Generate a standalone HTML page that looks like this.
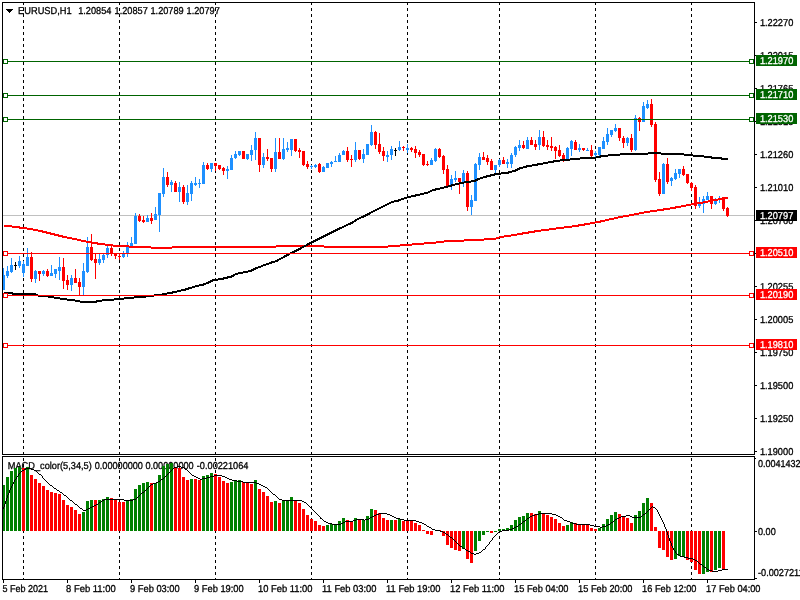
<!DOCTYPE html>
<html lang="en"><head><meta charset="utf-8"><title>EURUSD,H1</title>
<style>html,body{margin:0;padding:0;background:#fff;overflow:hidden}svg{display:block}text{font-family:"Liberation Sans",Arial,sans-serif;font-size:10px;fill:#000;stroke:#000;stroke-width:0.3px;text-rendering:geometricPrecision}.w{fill:#fff}</style></head><body>
<svg width="800" height="600" viewBox="0 0 800 600">
<rect width="800" height="600" fill="#fff"/>
<g shape-rendering="crispEdges">
<line x1="23.5" y1="2" x2="23.5" y2="579" stroke="#000" stroke-width="1" stroke-dasharray="3 3"/>
<line x1="119.5" y1="2" x2="119.5" y2="579" stroke="#000" stroke-width="1" stroke-dasharray="3 3"/>
<line x1="215.5" y1="2" x2="215.5" y2="579" stroke="#000" stroke-width="1" stroke-dasharray="3 3"/>
<line x1="311.5" y1="2" x2="311.5" y2="579" stroke="#000" stroke-width="1" stroke-dasharray="3 3"/>
<line x1="407.5" y1="2" x2="407.5" y2="579" stroke="#000" stroke-width="1" stroke-dasharray="3 3"/>
<line x1="499.5" y1="2" x2="499.5" y2="579" stroke="#000" stroke-width="1" stroke-dasharray="3 3"/>
<line x1="595.5" y1="2" x2="595.5" y2="579" stroke="#000" stroke-width="1" stroke-dasharray="3 3"/>
<line x1="691.5" y1="2" x2="691.5" y2="579" stroke="#000" stroke-width="1" stroke-dasharray="3 3"/>
<rect x="3" y="215" width="752" height="1" fill="#C0C0C0"/>
<rect x="3" y="268" width="1" height="22" fill="#1E90FF"/>
<rect x="2" y="275" width="3" height="15" fill="#1E90FF"/>
<rect x="7" y="266" width="1" height="12" fill="#1E90FF"/>
<rect x="6" y="271" width="3" height="5" fill="#1E90FF"/>
<rect x="11" y="258" width="1" height="15" fill="#1E90FF"/>
<rect x="10" y="265" width="3" height="7" fill="#1E90FF"/>
<rect x="15" y="262" width="1" height="8" fill="#000"/>
<rect x="14" y="265" width="3" height="1" fill="#000"/>
<rect x="19" y="256" width="1" height="12" fill="#1E90FF"/>
<rect x="18" y="261" width="3" height="5" fill="#1E90FF"/>
<rect x="23" y="261" width="1" height="16" fill="#1E90FF"/>
<rect x="22" y="264" width="3" height="9" fill="#1E90FF"/>
<rect x="27" y="248" width="1" height="18" fill="#1E90FF"/>
<rect x="26" y="257" width="3" height="9" fill="#1E90FF"/>
<rect x="31" y="252" width="1" height="30" fill="#FF0000"/>
<rect x="30" y="257" width="3" height="22" fill="#FF0000"/>
<rect x="35" y="270" width="1" height="13" fill="#1E90FF"/>
<rect x="34" y="271" width="3" height="8" fill="#1E90FF"/>
<rect x="39" y="271" width="1" height="10" fill="#FF0000"/>
<rect x="38" y="271" width="3" height="3" fill="#FF0000"/>
<rect x="43" y="270" width="1" height="6" fill="#1E90FF"/>
<rect x="42" y="271" width="3" height="3" fill="#1E90FF"/>
<rect x="47" y="269" width="1" height="8" fill="#FF0000"/>
<rect x="46" y="271" width="3" height="5" fill="#FF0000"/>
<rect x="51" y="265" width="1" height="11" fill="#1E90FF"/>
<rect x="50" y="273" width="3" height="3" fill="#1E90FF"/>
<rect x="55" y="269" width="1" height="9" fill="#1E90FF"/>
<rect x="54" y="269" width="3" height="5" fill="#1E90FF"/>
<rect x="59" y="257" width="1" height="23" fill="#1E90FF"/>
<rect x="58" y="267" width="3" height="4" fill="#1E90FF"/>
<rect x="63" y="258" width="1" height="31" fill="#FF0000"/>
<rect x="62" y="267" width="3" height="14" fill="#FF0000"/>
<rect x="67" y="275" width="1" height="15" fill="#FF0000"/>
<rect x="66" y="280" width="3" height="5" fill="#FF0000"/>
<rect x="71" y="275" width="1" height="16" fill="#1E90FF"/>
<rect x="70" y="278" width="3" height="7" fill="#1E90FF"/>
<rect x="75" y="269" width="1" height="14" fill="#FF0000"/>
<rect x="74" y="278" width="3" height="5" fill="#FF0000"/>
<rect x="79" y="278" width="1" height="17" fill="#FF0000"/>
<rect x="78" y="282" width="3" height="5" fill="#FF0000"/>
<rect x="83" y="263" width="1" height="32" fill="#1E90FF"/>
<rect x="82" y="271" width="3" height="16" fill="#1E90FF"/>
<rect x="87" y="237" width="1" height="36" fill="#1E90FF"/>
<rect x="86" y="247" width="3" height="25" fill="#1E90FF"/>
<rect x="91" y="234" width="1" height="27" fill="#FF0000"/>
<rect x="90" y="247" width="3" height="13" fill="#FF0000"/>
<rect x="95" y="254" width="1" height="25" fill="#FF0000"/>
<rect x="94" y="259" width="3" height="4" fill="#FF0000"/>
<rect x="99" y="254" width="1" height="11" fill="#1E90FF"/>
<rect x="98" y="259" width="3" height="4" fill="#1E90FF"/>
<rect x="103" y="254" width="1" height="9" fill="#1E90FF"/>
<rect x="102" y="255" width="3" height="5" fill="#1E90FF"/>
<rect x="107" y="245" width="1" height="13" fill="#1E90FF"/>
<rect x="106" y="248" width="3" height="7" fill="#1E90FF"/>
<rect x="111" y="245" width="1" height="11" fill="#FF0000"/>
<rect x="110" y="248" width="3" height="5" fill="#FF0000"/>
<rect x="115" y="253" width="1" height="6" fill="#FF0000"/>
<rect x="114" y="254" width="3" height="2" fill="#FF0000"/>
<rect x="119" y="254" width="1" height="6" fill="#FF0000"/>
<rect x="118" y="256" width="3" height="1" fill="#FF0000"/>
<rect x="123" y="251" width="1" height="7" fill="#1E90FF"/>
<rect x="122" y="253" width="3" height="4" fill="#1E90FF"/>
<rect x="127" y="242" width="1" height="15" fill="#1E90FF"/>
<rect x="126" y="247" width="3" height="6" fill="#1E90FF"/>
<rect x="131" y="237" width="1" height="9" fill="#1E90FF"/>
<rect x="130" y="243" width="3" height="3" fill="#1E90FF"/>
<rect x="135" y="213" width="1" height="31" fill="#1E90FF"/>
<rect x="134" y="216" width="3" height="28" fill="#1E90FF"/>
<rect x="139" y="214" width="1" height="8" fill="#FF0000"/>
<rect x="138" y="216" width="3" height="5" fill="#FF0000"/>
<rect x="143" y="216" width="1" height="7" fill="#FF0000"/>
<rect x="142" y="220" width="3" height="2" fill="#FF0000"/>
<rect x="147" y="215" width="1" height="7" fill="#1E90FF"/>
<rect x="146" y="218" width="3" height="4" fill="#1E90FF"/>
<rect x="151" y="213" width="1" height="11" fill="#FF0000"/>
<rect x="150" y="218" width="3" height="3" fill="#FF0000"/>
<rect x="155" y="207" width="1" height="13" fill="#1E90FF"/>
<rect x="154" y="214" width="3" height="6" fill="#1E90FF"/>
<rect x="159" y="193" width="1" height="39" fill="#1E90FF"/>
<rect x="158" y="193" width="3" height="22" fill="#1E90FF"/>
<rect x="163" y="168" width="1" height="29" fill="#1E90FF"/>
<rect x="162" y="177" width="3" height="17" fill="#1E90FF"/>
<rect x="167" y="172" width="1" height="15" fill="#FF0000"/>
<rect x="166" y="177" width="3" height="8" fill="#FF0000"/>
<rect x="171" y="180" width="1" height="12" fill="#1E90FF"/>
<rect x="170" y="182" width="3" height="3" fill="#1E90FF"/>
<rect x="175" y="181" width="1" height="11" fill="#FF0000"/>
<rect x="174" y="183" width="3" height="9" fill="#FF0000"/>
<rect x="179" y="182" width="1" height="20" fill="#1E90FF"/>
<rect x="178" y="187" width="3" height="5" fill="#1E90FF"/>
<rect x="183" y="185" width="1" height="19" fill="#FF0000"/>
<rect x="182" y="187" width="3" height="15" fill="#FF0000"/>
<rect x="187" y="185" width="1" height="20" fill="#1E90FF"/>
<rect x="186" y="193" width="3" height="9" fill="#1E90FF"/>
<rect x="191" y="181" width="1" height="20" fill="#1E90FF"/>
<rect x="190" y="183" width="3" height="11" fill="#1E90FF"/>
<rect x="195" y="177" width="1" height="9" fill="#1E90FF"/>
<rect x="194" y="183" width="3" height="2" fill="#1E90FF"/>
<rect x="199" y="179" width="1" height="9" fill="#1E90FF"/>
<rect x="198" y="183" width="3" height="1" fill="#1E90FF"/>
<rect x="203" y="162" width="1" height="22" fill="#1E90FF"/>
<rect x="202" y="165" width="3" height="19" fill="#1E90FF"/>
<rect x="207" y="163" width="1" height="7" fill="#FF0000"/>
<rect x="206" y="165" width="3" height="4" fill="#FF0000"/>
<rect x="211" y="163" width="1" height="9" fill="#1E90FF"/>
<rect x="210" y="163" width="3" height="6" fill="#1E90FF"/>
<rect x="215" y="163" width="1" height="8" fill="#FF0000"/>
<rect x="214" y="163" width="3" height="3" fill="#FF0000"/>
<rect x="219" y="165" width="1" height="5" fill="#FF0000"/>
<rect x="218" y="165" width="3" height="4" fill="#FF0000"/>
<rect x="223" y="167" width="1" height="8" fill="#FF0000"/>
<rect x="222" y="168" width="3" height="3" fill="#FF0000"/>
<rect x="227" y="166" width="1" height="13" fill="#1E90FF"/>
<rect x="226" y="169" width="3" height="2" fill="#1E90FF"/>
<rect x="231" y="155" width="1" height="15" fill="#1E90FF"/>
<rect x="230" y="158" width="3" height="12" fill="#1E90FF"/>
<rect x="235" y="151" width="1" height="8" fill="#1E90FF"/>
<rect x="234" y="154" width="3" height="4" fill="#1E90FF"/>
<rect x="239" y="151" width="1" height="5" fill="#1E90FF"/>
<rect x="238" y="151" width="3" height="4" fill="#1E90FF"/>
<rect x="243" y="151" width="1" height="8" fill="#FF0000"/>
<rect x="242" y="151" width="3" height="8" fill="#FF0000"/>
<rect x="247" y="154" width="1" height="6" fill="#1E90FF"/>
<rect x="246" y="154" width="3" height="5" fill="#1E90FF"/>
<rect x="251" y="145" width="1" height="16" fill="#1E90FF"/>
<rect x="250" y="150" width="3" height="5" fill="#1E90FF"/>
<rect x="255" y="132" width="1" height="28" fill="#1E90FF"/>
<rect x="254" y="138" width="3" height="12" fill="#1E90FF"/>
<rect x="259" y="138" width="1" height="34" fill="#FF0000"/>
<rect x="258" y="138" width="3" height="27" fill="#FF0000"/>
<rect x="263" y="153" width="1" height="15" fill="#1E90FF"/>
<rect x="262" y="157" width="3" height="8" fill="#1E90FF"/>
<rect x="267" y="149" width="1" height="12" fill="#FF0000"/>
<rect x="266" y="157" width="3" height="2" fill="#FF0000"/>
<rect x="271" y="158" width="1" height="14" fill="#FF0000"/>
<rect x="270" y="158" width="3" height="11" fill="#FF0000"/>
<rect x="275" y="138" width="1" height="34" fill="#1E90FF"/>
<rect x="274" y="152" width="3" height="17" fill="#1E90FF"/>
<rect x="279" y="138" width="1" height="21" fill="#FF0000"/>
<rect x="278" y="152" width="3" height="7" fill="#FF0000"/>
<rect x="283" y="138" width="1" height="22" fill="#1E90FF"/>
<rect x="282" y="149" width="3" height="10" fill="#1E90FF"/>
<rect x="287" y="142" width="1" height="10" fill="#1E90FF"/>
<rect x="286" y="148" width="3" height="2" fill="#1E90FF"/>
<rect x="291" y="139" width="1" height="17" fill="#1E90FF"/>
<rect x="290" y="139" width="3" height="11" fill="#1E90FF"/>
<rect x="295" y="139" width="1" height="13" fill="#FF0000"/>
<rect x="294" y="139" width="3" height="12" fill="#FF0000"/>
<rect x="299" y="148" width="1" height="10" fill="#FF0000"/>
<rect x="298" y="150" width="3" height="2" fill="#FF0000"/>
<rect x="303" y="151" width="1" height="15" fill="#FF0000"/>
<rect x="302" y="151" width="3" height="14" fill="#FF0000"/>
<rect x="307" y="161" width="1" height="8" fill="#FF0000"/>
<rect x="306" y="164" width="3" height="3" fill="#FF0000"/>
<rect x="311" y="165" width="1" height="4" fill="#1E90FF"/>
<rect x="310" y="166" width="3" height="1" fill="#1E90FF"/>
<rect x="315" y="164" width="1" height="4" fill="#1E90FF"/>
<rect x="314" y="165" width="3" height="2" fill="#1E90FF"/>
<rect x="319" y="163" width="1" height="10" fill="#FF0000"/>
<rect x="318" y="164" width="3" height="8" fill="#FF0000"/>
<rect x="323" y="166" width="1" height="6" fill="#1E90FF"/>
<rect x="322" y="167" width="3" height="5" fill="#1E90FF"/>
<rect x="327" y="163" width="1" height="5" fill="#1E90FF"/>
<rect x="326" y="163" width="3" height="5" fill="#1E90FF"/>
<rect x="331" y="161" width="1" height="6" fill="#1E90FF"/>
<rect x="330" y="162" width="3" height="2" fill="#1E90FF"/>
<rect x="335" y="156" width="1" height="6" fill="#1E90FF"/>
<rect x="334" y="161" width="3" height="1" fill="#1E90FF"/>
<rect x="339" y="153" width="1" height="9" fill="#1E90FF"/>
<rect x="338" y="155" width="3" height="7" fill="#1E90FF"/>
<rect x="343" y="150" width="1" height="5" fill="#1E90FF"/>
<rect x="342" y="151" width="3" height="4" fill="#1E90FF"/>
<rect x="347" y="147" width="1" height="15" fill="#FF0000"/>
<rect x="346" y="151" width="3" height="9" fill="#FF0000"/>
<rect x="351" y="155" width="1" height="12" fill="#FF0000"/>
<rect x="350" y="159" width="3" height="1" fill="#FF0000"/>
<rect x="355" y="142" width="1" height="20" fill="#1E90FF"/>
<rect x="354" y="150" width="3" height="10" fill="#1E90FF"/>
<rect x="359" y="150" width="1" height="10" fill="#FF0000"/>
<rect x="358" y="150" width="3" height="9" fill="#FF0000"/>
<rect x="363" y="149" width="1" height="14" fill="#1E90FF"/>
<rect x="362" y="154" width="3" height="5" fill="#1E90FF"/>
<rect x="367" y="144" width="1" height="11" fill="#1E90FF"/>
<rect x="366" y="144" width="3" height="11" fill="#1E90FF"/>
<rect x="371" y="125" width="1" height="21" fill="#1E90FF"/>
<rect x="370" y="132" width="3" height="13" fill="#1E90FF"/>
<rect x="375" y="131" width="1" height="18" fill="#FF0000"/>
<rect x="374" y="132" width="3" height="13" fill="#FF0000"/>
<rect x="379" y="133" width="1" height="21" fill="#FF0000"/>
<rect x="378" y="144" width="3" height="8" fill="#FF0000"/>
<rect x="383" y="147" width="1" height="14" fill="#FF0000"/>
<rect x="382" y="151" width="3" height="5" fill="#FF0000"/>
<rect x="387" y="151" width="1" height="11" fill="#1E90FF"/>
<rect x="386" y="155" width="3" height="2" fill="#1E90FF"/>
<rect x="391" y="146" width="1" height="14" fill="#1E90FF"/>
<rect x="390" y="149" width="3" height="6" fill="#1E90FF"/>
<rect x="395" y="148" width="1" height="8" fill="#000"/>
<rect x="394" y="150" width="3" height="1" fill="#000"/>
<rect x="399" y="141" width="1" height="10" fill="#1E90FF"/>
<rect x="398" y="147" width="3" height="3" fill="#1E90FF"/>
<rect x="403" y="146" width="1" height="5" fill="#FF0000"/>
<rect x="402" y="147" width="3" height="1" fill="#FF0000"/>
<rect x="407" y="144" width="1" height="9" fill="#1E90FF"/>
<rect x="406" y="148" width="3" height="2" fill="#1E90FF"/>
<rect x="411" y="147" width="1" height="5" fill="#FF0000"/>
<rect x="410" y="148" width="3" height="2" fill="#FF0000"/>
<rect x="415" y="146" width="1" height="12" fill="#FF0000"/>
<rect x="414" y="149" width="3" height="4" fill="#FF0000"/>
<rect x="419" y="150" width="1" height="7" fill="#FF0000"/>
<rect x="418" y="152" width="3" height="3" fill="#FF0000"/>
<rect x="423" y="154" width="1" height="12" fill="#FF0000"/>
<rect x="422" y="154" width="3" height="11" fill="#FF0000"/>
<rect x="427" y="161" width="1" height="5" fill="#FF0000"/>
<rect x="426" y="164" width="3" height="1" fill="#FF0000"/>
<rect x="431" y="158" width="1" height="7" fill="#1E90FF"/>
<rect x="430" y="160" width="3" height="5" fill="#1E90FF"/>
<rect x="435" y="148" width="1" height="14" fill="#1E90FF"/>
<rect x="434" y="149" width="3" height="12" fill="#1E90FF"/>
<rect x="439" y="148" width="1" height="10" fill="#FF0000"/>
<rect x="438" y="149" width="3" height="8" fill="#FF0000"/>
<rect x="443" y="155" width="1" height="19" fill="#FF0000"/>
<rect x="442" y="156" width="3" height="14" fill="#FF0000"/>
<rect x="447" y="165" width="1" height="21" fill="#FF0000"/>
<rect x="446" y="169" width="3" height="17" fill="#FF0000"/>
<rect x="451" y="175" width="1" height="15" fill="#1E90FF"/>
<rect x="450" y="179" width="3" height="7" fill="#1E90FF"/>
<rect x="455" y="171" width="1" height="11" fill="#1E90FF"/>
<rect x="454" y="178" width="3" height="2" fill="#1E90FF"/>
<rect x="459" y="178" width="1" height="16" fill="#FF0000"/>
<rect x="458" y="178" width="3" height="4" fill="#FF0000"/>
<rect x="463" y="170" width="1" height="17" fill="#1E90FF"/>
<rect x="462" y="173" width="3" height="9" fill="#1E90FF"/>
<rect x="467" y="171" width="1" height="40" fill="#FF0000"/>
<rect x="466" y="173" width="3" height="34" fill="#FF0000"/>
<rect x="471" y="195" width="1" height="20" fill="#1E90FF"/>
<rect x="470" y="200" width="3" height="7" fill="#1E90FF"/>
<rect x="475" y="163" width="1" height="38" fill="#1E90FF"/>
<rect x="474" y="164" width="3" height="37" fill="#1E90FF"/>
<rect x="479" y="153" width="1" height="17" fill="#1E90FF"/>
<rect x="478" y="157" width="3" height="8" fill="#1E90FF"/>
<rect x="483" y="152" width="1" height="8" fill="#FF0000"/>
<rect x="482" y="157" width="3" height="3" fill="#FF0000"/>
<rect x="487" y="155" width="1" height="10" fill="#FF0000"/>
<rect x="486" y="158" width="3" height="4" fill="#FF0000"/>
<rect x="491" y="159" width="1" height="11" fill="#FF0000"/>
<rect x="490" y="161" width="3" height="9" fill="#FF0000"/>
<rect x="495" y="165" width="1" height="8" fill="#1E90FF"/>
<rect x="494" y="165" width="3" height="5" fill="#1E90FF"/>
<rect x="499" y="159" width="1" height="8" fill="#1E90FF"/>
<rect x="498" y="160" width="3" height="5" fill="#1E90FF"/>
<rect x="503" y="157" width="1" height="7" fill="#FF0000"/>
<rect x="502" y="160" width="3" height="4" fill="#FF0000"/>
<rect x="507" y="159" width="1" height="9" fill="#1E90FF"/>
<rect x="506" y="162" width="3" height="2" fill="#1E90FF"/>
<rect x="511" y="153" width="1" height="15" fill="#1E90FF"/>
<rect x="510" y="155" width="3" height="9" fill="#1E90FF"/>
<rect x="515" y="146" width="1" height="11" fill="#1E90FF"/>
<rect x="514" y="147" width="3" height="8" fill="#1E90FF"/>
<rect x="519" y="140" width="1" height="11" fill="#1E90FF"/>
<rect x="518" y="145" width="3" height="3" fill="#1E90FF"/>
<rect x="523" y="141" width="1" height="8" fill="#FF0000"/>
<rect x="522" y="145" width="3" height="3" fill="#FF0000"/>
<rect x="527" y="137" width="1" height="12" fill="#1E90FF"/>
<rect x="526" y="140" width="3" height="9" fill="#1E90FF"/>
<rect x="531" y="137" width="1" height="8" fill="#FF0000"/>
<rect x="530" y="140" width="3" height="5" fill="#FF0000"/>
<rect x="535" y="140" width="1" height="10" fill="#FF0000"/>
<rect x="534" y="144" width="3" height="3" fill="#FF0000"/>
<rect x="539" y="130" width="1" height="20" fill="#1E90FF"/>
<rect x="538" y="137" width="3" height="8" fill="#1E90FF"/>
<rect x="543" y="131" width="1" height="16" fill="#FF0000"/>
<rect x="542" y="137" width="3" height="9" fill="#FF0000"/>
<rect x="547" y="140" width="1" height="10" fill="#FF0000"/>
<rect x="546" y="145" width="3" height="2" fill="#FF0000"/>
<rect x="551" y="137" width="1" height="14" fill="#FF0000"/>
<rect x="550" y="146" width="3" height="2" fill="#FF0000"/>
<rect x="555" y="146" width="1" height="13" fill="#FF0000"/>
<rect x="554" y="147" width="3" height="4" fill="#FF0000"/>
<rect x="559" y="145" width="1" height="12" fill="#FF0000"/>
<rect x="558" y="150" width="3" height="6" fill="#FF0000"/>
<rect x="563" y="153" width="1" height="9" fill="#FF0000"/>
<rect x="562" y="155" width="3" height="4" fill="#FF0000"/>
<rect x="567" y="147" width="1" height="12" fill="#1E90FF"/>
<rect x="566" y="148" width="3" height="11" fill="#1E90FF"/>
<rect x="571" y="140" width="1" height="16" fill="#1E90FF"/>
<rect x="570" y="141" width="3" height="8" fill="#1E90FF"/>
<rect x="575" y="140" width="1" height="10" fill="#FF0000"/>
<rect x="574" y="142" width="3" height="8" fill="#FF0000"/>
<rect x="579" y="144" width="1" height="8" fill="#1E90FF"/>
<rect x="578" y="148" width="3" height="2" fill="#1E90FF"/>
<rect x="583" y="148" width="1" height="3" fill="#FF0000"/>
<rect x="582" y="148" width="3" height="2" fill="#FF0000"/>
<rect x="587" y="148" width="1" height="3" fill="#1E90FF"/>
<rect x="586" y="150" width="3" height="1" fill="#1E90FF"/>
<rect x="591" y="145" width="1" height="12" fill="#FF0000"/>
<rect x="590" y="150" width="3" height="6" fill="#FF0000"/>
<rect x="595" y="151" width="1" height="6" fill="#1E90FF"/>
<rect x="594" y="153" width="3" height="2" fill="#1E90FF"/>
<rect x="599" y="147" width="1" height="9" fill="#1E90FF"/>
<rect x="598" y="147" width="3" height="8" fill="#1E90FF"/>
<rect x="603" y="137" width="1" height="12" fill="#1E90FF"/>
<rect x="602" y="141" width="3" height="8" fill="#1E90FF"/>
<rect x="607" y="128" width="1" height="17" fill="#1E90FF"/>
<rect x="606" y="134" width="3" height="8" fill="#1E90FF"/>
<rect x="611" y="130" width="1" height="7" fill="#1E90FF"/>
<rect x="610" y="130" width="3" height="5" fill="#1E90FF"/>
<rect x="615" y="124" width="1" height="8" fill="#1E90FF"/>
<rect x="614" y="128" width="3" height="3" fill="#1E90FF"/>
<rect x="619" y="128" width="1" height="13" fill="#FF0000"/>
<rect x="618" y="128" width="3" height="10" fill="#FF0000"/>
<rect x="623" y="136" width="1" height="12" fill="#FF0000"/>
<rect x="622" y="138" width="3" height="5" fill="#FF0000"/>
<rect x="627" y="137" width="1" height="9" fill="#1E90FF"/>
<rect x="626" y="138" width="3" height="5" fill="#1E90FF"/>
<rect x="631" y="134" width="1" height="18" fill="#FF0000"/>
<rect x="630" y="138" width="3" height="12" fill="#FF0000"/>
<rect x="635" y="115" width="1" height="36" fill="#1E90FF"/>
<rect x="634" y="118" width="3" height="32" fill="#1E90FF"/>
<rect x="639" y="117" width="1" height="14" fill="#FF0000"/>
<rect x="638" y="118" width="3" height="4" fill="#FF0000"/>
<rect x="643" y="102" width="1" height="20" fill="#1E90FF"/>
<rect x="642" y="106" width="3" height="16" fill="#1E90FF"/>
<rect x="647" y="100" width="1" height="9" fill="#1E90FF"/>
<rect x="646" y="104" width="3" height="4" fill="#1E90FF"/>
<rect x="651" y="99" width="1" height="28" fill="#FF0000"/>
<rect x="650" y="104" width="3" height="21" fill="#FF0000"/>
<rect x="655" y="122" width="1" height="60" fill="#FF0000"/>
<rect x="654" y="124" width="3" height="56" fill="#FF0000"/>
<rect x="659" y="172" width="1" height="24" fill="#FF0000"/>
<rect x="658" y="179" width="3" height="15" fill="#FF0000"/>
<rect x="663" y="163" width="1" height="31" fill="#1E90FF"/>
<rect x="662" y="164" width="3" height="30" fill="#1E90FF"/>
<rect x="667" y="158" width="1" height="26" fill="#FF0000"/>
<rect x="666" y="164" width="3" height="18" fill="#FF0000"/>
<rect x="671" y="177" width="1" height="9" fill="#1E90FF"/>
<rect x="670" y="178" width="3" height="3" fill="#1E90FF"/>
<rect x="675" y="169" width="1" height="11" fill="#1E90FF"/>
<rect x="674" y="173" width="3" height="6" fill="#1E90FF"/>
<rect x="679" y="169" width="1" height="9" fill="#1E90FF"/>
<rect x="678" y="169" width="3" height="5" fill="#1E90FF"/>
<rect x="683" y="166" width="1" height="10" fill="#FF0000"/>
<rect x="682" y="169" width="3" height="6" fill="#FF0000"/>
<rect x="687" y="174" width="1" height="10" fill="#FF0000"/>
<rect x="686" y="174" width="3" height="9" fill="#FF0000"/>
<rect x="691" y="182" width="1" height="9" fill="#FF0000"/>
<rect x="690" y="183" width="3" height="5" fill="#FF0000"/>
<rect x="695" y="185" width="1" height="24" fill="#FF0000"/>
<rect x="694" y="187" width="3" height="19" fill="#FF0000"/>
<rect x="699" y="197" width="1" height="11" fill="#1E90FF"/>
<rect x="698" y="203" width="3" height="3" fill="#1E90FF"/>
<rect x="703" y="196" width="1" height="17" fill="#1E90FF"/>
<rect x="702" y="199" width="3" height="5" fill="#1E90FF"/>
<rect x="707" y="192" width="1" height="8" fill="#1E90FF"/>
<rect x="706" y="196" width="3" height="4" fill="#1E90FF"/>
<rect x="711" y="196" width="1" height="13" fill="#FF0000"/>
<rect x="710" y="196" width="3" height="8" fill="#FF0000"/>
<rect x="715" y="198" width="1" height="7" fill="#1E90FF"/>
<rect x="714" y="200" width="3" height="4" fill="#1E90FF"/>
<rect x="719" y="196" width="1" height="7" fill="#1E90FF"/>
<rect x="718" y="198" width="3" height="2" fill="#1E90FF"/>
<rect x="723" y="198" width="1" height="13" fill="#FF0000"/>
<rect x="722" y="198" width="3" height="11" fill="#FF0000"/>
<rect x="727" y="207" width="1" height="10" fill="#FF0000"/>
<rect x="726" y="208" width="3" height="8" fill="#FF0000"/>
<polyline points="3.5,226 11.5,226 12.5,227 19.5,227.5 25.5,228.3 37.5,230.3 50.5,233.5 62.5,236.5 75.5,239.25 87.5,241.9 100.5,244 112.5,245.5 120.5,246.2 131.5,246.6 132.5,247 150.5,247 151.5,248 171.5,248 172.5,247 275.5,247 276.5,246 323.5,246 324.5,247 387.5,247 388.5,246 396.5,245.85 400.5,245.5 412.1,244.5 424.5,243.5 436.5,242.5 444.5,241.5 464.5,240.5 484.5,239.5 495.9,238.5 500.5,237 512.5,235.25 525.5,233 537.5,231 550.5,229.25 562.5,227.75 575.5,226 587.5,224 600.5,221.5 610.5,219.2 620.5,217 630.5,215.2 640.5,213.2 650.5,211.4 660.5,210 670.5,208.4 680.5,206.6 690.5,204.6 700.5,203 710.5,201 720.5,199 724.5,198 728.0,198" fill="none" stroke="#FF0000" stroke-width="2" stroke-linejoin="round"/>
<polyline points="3.5,293 11.5,293 13.5,294 34.5,294 37.5,295.5 47.5,296.5 51.5,297 62.5,299 76.5,300.75 81.0,301.8 96.0,301.8 97.5,300.9 112.5,299.7 124.5,298.5 136.5,297.3 148.5,296.25 160.5,294.75 172.5,292.5 184.5,289.8 196.5,286 202.75,284.75 209.0,282.25 212.75,280.25 221.5,279 231.5,276.5 236.5,273.75 246.5,271.9 251.5,270.6 256.5,268.1 264.0,265.25 271.5,262.5 276.5,261 284.0,256.9 290.25,253.5 296.5,250.6 309.0,243.75 321.5,237.5 334.0,231.25 346.5,225.25 351.5,223.1 356.5,219.75 366.5,215 376.5,209.75 384.0,206 391.5,202.25 394.0,201.5 396.5,201.25 397.0,201 407.5,197.25 419.0,194.75 427.5,192.75 432.5,190.25 446.5,186.9 459.0,183.5 466.5,181.9 474.0,181.25 479.0,178.75 486.5,176.5 496.5,174 507.5,172.75 515.5,170.6 520.5,168.1 527.5,166.25 540.5,164 549.0,162.25 559.0,160.6 566.5,159.75 576.5,159 585.5,157.75 596.5,157.5 602.5,156 608.5,155.5 620.5,154.5 648.5,153.5 654.5,153.1 660.5,153.5 683.5,154.5 692.5,155.5 700.5,156 710.5,157.4 720.5,158.4 728.0,159.2" fill="none" stroke="#000" stroke-width="2" stroke-linejoin="round"/>
<rect x="3" y="61" width="751" height="1" fill="#006400"/>
<rect x="3" y="95" width="751" height="1" fill="#006400"/>
<rect x="3" y="119" width="751" height="1" fill="#006400"/>
<rect x="3" y="253" width="751" height="1" fill="#FF0000"/>
<rect x="3" y="295" width="751" height="1" fill="#FF0000"/>
<rect x="3" y="345" width="751" height="1" fill="#FF0000"/>
<rect x="3.5" y="59.5" width="4" height="4" fill="#fff" stroke="#006400" stroke-width="1"/>
<rect x="749.5" y="59.5" width="4" height="4" fill="#fff" stroke="#006400" stroke-width="1"/>
<rect x="3.5" y="93.5" width="4" height="4" fill="#fff" stroke="#006400" stroke-width="1"/>
<rect x="749.5" y="93.5" width="4" height="4" fill="#fff" stroke="#006400" stroke-width="1"/>
<rect x="3.5" y="117.5" width="4" height="4" fill="#fff" stroke="#006400" stroke-width="1"/>
<rect x="749.5" y="117.5" width="4" height="4" fill="#fff" stroke="#006400" stroke-width="1"/>
<rect x="3.5" y="251.5" width="4" height="4" fill="#fff" stroke="#FF0000" stroke-width="1"/>
<rect x="749.5" y="251.5" width="4" height="4" fill="#fff" stroke="#FF0000" stroke-width="1"/>
<rect x="3.5" y="293.5" width="4" height="4" fill="#fff" stroke="#FF0000" stroke-width="1"/>
<rect x="749.5" y="293.5" width="4" height="4" fill="#fff" stroke="#FF0000" stroke-width="1"/>
<rect x="3.5" y="343.5" width="4" height="4" fill="#fff" stroke="#FF0000" stroke-width="1"/>
<rect x="749.5" y="343.5" width="4" height="4" fill="#fff" stroke="#FF0000" stroke-width="1"/>
</g>
<text x="7.8" y="469" textLength="84" lengthAdjust="spacingAndGlyphs">MACD_color(5,34,5)</text>
<text x="94.75" y="469" textLength="48.2" lengthAdjust="spacingAndGlyphs">0.00000000</text>
<text x="145.4" y="469" textLength="48.3" lengthAdjust="spacingAndGlyphs">0.00000000</text>
<text x="196.8" y="469" textLength="51.6" lengthAdjust="spacingAndGlyphs">-0.00221064</text>
<g shape-rendering="crispEdges">
<rect x="2" y="485" width="3" height="46" fill="#008000"/>
<rect x="6" y="477" width="3" height="54" fill="#008000"/>
<rect x="10" y="471" width="3" height="60" fill="#008000"/>
<rect x="14" y="468" width="3" height="63" fill="#008000"/>
<rect x="18" y="467" width="3" height="64" fill="#008000"/>
<rect x="22" y="468" width="3" height="63" fill="#FF0000"/>
<rect x="26" y="467" width="3" height="64" fill="#008000"/>
<rect x="30" y="475" width="3" height="56" fill="#FF0000"/>
<rect x="34" y="479" width="3" height="52" fill="#FF0000"/>
<rect x="38" y="483" width="3" height="48" fill="#FF0000"/>
<rect x="42" y="486" width="3" height="45" fill="#FF0000"/>
<rect x="46" y="490" width="3" height="41" fill="#FF0000"/>
<rect x="50" y="492" width="3" height="39" fill="#FF0000"/>
<rect x="54" y="493" width="3" height="38" fill="#FF0000"/>
<rect x="58" y="494" width="3" height="37" fill="#FF0000"/>
<rect x="62" y="500" width="3" height="31" fill="#FF0000"/>
<rect x="66" y="505" width="3" height="26" fill="#FF0000"/>
<rect x="70" y="507" width="3" height="24" fill="#FF0000"/>
<rect x="74" y="510" width="3" height="21" fill="#FF0000"/>
<rect x="78" y="514" width="3" height="17" fill="#FF0000"/>
<rect x="82" y="512" width="3" height="19" fill="#008000"/>
<rect x="86" y="501" width="3" height="30" fill="#008000"/>
<rect x="90" y="500" width="3" height="31" fill="#008000"/>
<rect x="94" y="500" width="3" height="31" fill="#FF0000"/>
<rect x="98" y="500" width="3" height="31" fill="#008000"/>
<rect x="102" y="499" width="3" height="32" fill="#008000"/>
<rect x="106" y="497" width="3" height="34" fill="#008000"/>
<rect x="110" y="498" width="3" height="33" fill="#FF0000"/>
<rect x="114" y="500" width="3" height="31" fill="#FF0000"/>
<rect x="118" y="502" width="3" height="29" fill="#FF0000"/>
<rect x="122" y="502" width="3" height="29" fill="#FF0000"/>
<rect x="126" y="501" width="3" height="30" fill="#008000"/>
<rect x="130" y="499" width="3" height="32" fill="#008000"/>
<rect x="134" y="489" width="3" height="42" fill="#008000"/>
<rect x="138" y="485" width="3" height="46" fill="#008000"/>
<rect x="142" y="483" width="3" height="48" fill="#008000"/>
<rect x="146" y="482" width="3" height="49" fill="#008000"/>
<rect x="150" y="483" width="3" height="48" fill="#FF0000"/>
<rect x="154" y="483" width="3" height="48" fill="#008000"/>
<rect x="158" y="475" width="3" height="56" fill="#008000"/>
<rect x="162" y="466" width="3" height="65" fill="#008000"/>
<rect x="166" y="464" width="3" height="67" fill="#008000"/>
<rect x="170" y="463" width="3" height="68" fill="#008000"/>
<rect x="174" y="467" width="3" height="64" fill="#FF0000"/>
<rect x="178" y="468" width="3" height="63" fill="#FF0000"/>
<rect x="182" y="477" width="3" height="54" fill="#FF0000"/>
<rect x="186" y="480" width="3" height="51" fill="#FF0000"/>
<rect x="190" y="479" width="3" height="52" fill="#008000"/>
<rect x="194" y="479" width="3" height="52" fill="#FF0000"/>
<rect x="198" y="480" width="3" height="51" fill="#FF0000"/>
<rect x="202" y="476" width="3" height="55" fill="#008000"/>
<rect x="206" y="475" width="3" height="56" fill="#008000"/>
<rect x="210" y="473" width="3" height="58" fill="#008000"/>
<rect x="214" y="474" width="3" height="57" fill="#FF0000"/>
<rect x="218" y="477" width="3" height="54" fill="#FF0000"/>
<rect x="222" y="481" width="3" height="50" fill="#FF0000"/>
<rect x="226" y="483" width="3" height="48" fill="#FF0000"/>
<rect x="230" y="482" width="3" height="49" fill="#008000"/>
<rect x="234" y="480" width="3" height="51" fill="#008000"/>
<rect x="238" y="480" width="3" height="51" fill="#008000"/>
<rect x="242" y="482" width="3" height="49" fill="#FF0000"/>
<rect x="246" y="483" width="3" height="48" fill="#FF0000"/>
<rect x="250" y="484" width="3" height="47" fill="#FF0000"/>
<rect x="254" y="480" width="3" height="51" fill="#008000"/>
<rect x="258" y="489" width="3" height="42" fill="#FF0000"/>
<rect x="262" y="492" width="3" height="39" fill="#FF0000"/>
<rect x="266" y="496" width="3" height="35" fill="#FF0000"/>
<rect x="270" y="502" width="3" height="29" fill="#FF0000"/>
<rect x="274" y="501" width="3" height="30" fill="#008000"/>
<rect x="278" y="503" width="3" height="28" fill="#FF0000"/>
<rect x="282" y="500" width="3" height="31" fill="#008000"/>
<rect x="286" y="500" width="3" height="31" fill="#008000"/>
<rect x="290" y="497" width="3" height="34" fill="#008000"/>
<rect x="294" y="501" width="3" height="30" fill="#FF0000"/>
<rect x="298" y="503" width="3" height="28" fill="#FF0000"/>
<rect x="302" y="509" width="3" height="22" fill="#FF0000"/>
<rect x="306" y="515" width="3" height="16" fill="#FF0000"/>
<rect x="310" y="519" width="3" height="12" fill="#FF0000"/>
<rect x="314" y="521" width="3" height="10" fill="#FF0000"/>
<rect x="318" y="525" width="3" height="6" fill="#FF0000"/>
<rect x="322" y="526" width="3" height="5" fill="#FF0000"/>
<rect x="326" y="525" width="3" height="6" fill="#008000"/>
<rect x="330" y="524" width="3" height="7" fill="#008000"/>
<rect x="334" y="524" width="3" height="7" fill="#008000"/>
<rect x="338" y="521" width="3" height="10" fill="#008000"/>
<rect x="342" y="518" width="3" height="13" fill="#008000"/>
<rect x="346" y="520" width="3" height="11" fill="#FF0000"/>
<rect x="350" y="521" width="3" height="10" fill="#FF0000"/>
<rect x="354" y="518" width="3" height="13" fill="#008000"/>
<rect x="358" y="519" width="3" height="12" fill="#FF0000"/>
<rect x="362" y="520" width="3" height="11" fill="#008000"/>
<rect x="366" y="516" width="3" height="15" fill="#008000"/>
<rect x="370" y="509" width="3" height="22" fill="#008000"/>
<rect x="374" y="510" width="3" height="21" fill="#FF0000"/>
<rect x="378" y="513" width="3" height="18" fill="#FF0000"/>
<rect x="382" y="518" width="3" height="13" fill="#FF0000"/>
<rect x="386" y="520" width="3" height="11" fill="#FF0000"/>
<rect x="390" y="520" width="3" height="11" fill="#008000"/>
<rect x="394" y="520" width="3" height="11" fill="#FF0000"/>
<rect x="398" y="519" width="3" height="12" fill="#008000"/>
<rect x="402" y="521" width="3" height="10" fill="#FF0000"/>
<rect x="406" y="521" width="3" height="10" fill="#FF0000"/>
<rect x="410" y="521" width="3" height="10" fill="#FF0000"/>
<rect x="414" y="523" width="3" height="8" fill="#FF0000"/>
<rect x="418" y="525" width="3" height="6" fill="#FF0000"/>
<rect x="422" y="530" width="3" height="1" fill="#FF0000"/>
<rect x="426" y="531" width="3" height="3" fill="#FF0000"/>
<rect x="430" y="531" width="3" height="4" fill="#FF0000"/>
<rect x="438" y="530" width="3" height="1" fill="#FF0000"/>
<rect x="442" y="531" width="3" height="5" fill="#FF0000"/>
<rect x="446" y="531" width="3" height="14" fill="#FF0000"/>
<rect x="450" y="531" width="3" height="17" fill="#FF0000"/>
<rect x="454" y="531" width="3" height="19" fill="#FF0000"/>
<rect x="458" y="531" width="3" height="20" fill="#FF0000"/>
<rect x="462" y="531" width="3" height="18" fill="#008000"/>
<rect x="466" y="531" width="3" height="28" fill="#FF0000"/>
<rect x="470" y="531" width="3" height="32" fill="#FF0000"/>
<rect x="474" y="531" width="3" height="20" fill="#008000"/>
<rect x="478" y="531" width="3" height="10" fill="#008000"/>
<rect x="482" y="531" width="3" height="4" fill="#008000"/>
<rect x="486" y="531" width="3" height="1" fill="#008000"/>
<rect x="490" y="531" width="3" height="2" fill="#FF0000"/>
<rect x="494" y="531" width="3" height="1" fill="#008000"/>
<rect x="498" y="529" width="3" height="2" fill="#008000"/>
<rect x="502" y="529" width="3" height="2" fill="#008000"/>
<rect x="506" y="528" width="3" height="3" fill="#008000"/>
<rect x="510" y="525" width="3" height="6" fill="#008000"/>
<rect x="514" y="520" width="3" height="11" fill="#008000"/>
<rect x="518" y="517" width="3" height="14" fill="#008000"/>
<rect x="522" y="516" width="3" height="15" fill="#008000"/>
<rect x="526" y="513" width="3" height="18" fill="#008000"/>
<rect x="530" y="513" width="3" height="18" fill="#FF0000"/>
<rect x="534" y="514" width="3" height="17" fill="#FF0000"/>
<rect x="538" y="511" width="3" height="20" fill="#008000"/>
<rect x="542" y="514" width="3" height="17" fill="#FF0000"/>
<rect x="546" y="515" width="3" height="16" fill="#FF0000"/>
<rect x="550" y="517" width="3" height="14" fill="#FF0000"/>
<rect x="554" y="519" width="3" height="12" fill="#FF0000"/>
<rect x="558" y="523" width="3" height="8" fill="#FF0000"/>
<rect x="562" y="526" width="3" height="5" fill="#FF0000"/>
<rect x="566" y="525" width="3" height="6" fill="#008000"/>
<rect x="570" y="522" width="3" height="9" fill="#008000"/>
<rect x="574" y="523" width="3" height="8" fill="#FF0000"/>
<rect x="578" y="524" width="3" height="7" fill="#FF0000"/>
<rect x="582" y="525" width="3" height="6" fill="#FF0000"/>
<rect x="586" y="525" width="3" height="6" fill="#FF0000"/>
<rect x="590" y="528" width="3" height="3" fill="#FF0000"/>
<rect x="594" y="529" width="3" height="2" fill="#FF0000"/>
<rect x="598" y="528" width="3" height="3" fill="#008000"/>
<rect x="602" y="524" width="3" height="7" fill="#008000"/>
<rect x="606" y="519" width="3" height="12" fill="#008000"/>
<rect x="610" y="515" width="3" height="16" fill="#008000"/>
<rect x="614" y="512" width="3" height="19" fill="#008000"/>
<rect x="618" y="514" width="3" height="17" fill="#FF0000"/>
<rect x="622" y="516" width="3" height="15" fill="#FF0000"/>
<rect x="626" y="518" width="3" height="13" fill="#FF0000"/>
<rect x="630" y="523" width="3" height="8" fill="#FF0000"/>
<rect x="634" y="515" width="3" height="16" fill="#008000"/>
<rect x="638" y="511" width="3" height="20" fill="#008000"/>
<rect x="642" y="503" width="3" height="28" fill="#008000"/>
<rect x="646" y="498" width="3" height="33" fill="#008000"/>
<rect x="650" y="503" width="3" height="28" fill="#FF0000"/>
<rect x="654" y="527" width="3" height="4" fill="#FF0000"/>
<rect x="658" y="531" width="3" height="17" fill="#FF0000"/>
<rect x="662" y="531" width="3" height="19" fill="#FF0000"/>
<rect x="666" y="531" width="3" height="26" fill="#FF0000"/>
<rect x="670" y="531" width="3" height="29" fill="#FF0000"/>
<rect x="674" y="531" width="3" height="28" fill="#008000"/>
<rect x="678" y="531" width="3" height="25" fill="#008000"/>
<rect x="682" y="531" width="3" height="26" fill="#008000"/>
<rect x="686" y="531" width="3" height="29" fill="#FF0000"/>
<rect x="690" y="531" width="3" height="31" fill="#FF0000"/>
<rect x="694" y="531" width="3" height="39" fill="#FF0000"/>
<rect x="698" y="531" width="3" height="43" fill="#FF0000"/>
<rect x="702" y="531" width="3" height="43" fill="#008000"/>
<rect x="706" y="531" width="3" height="41" fill="#008000"/>
<rect x="710" y="531" width="3" height="41" fill="#FF0000"/>
<rect x="714" y="531" width="3" height="39" fill="#008000"/>
<rect x="718" y="531" width="3" height="37" fill="#008000"/>
<rect x="722" y="531" width="3" height="38" fill="#FF0000"/>
<path d="M3 507h1v2h-1zM4 504h1v3h-1zM5 501h1v3h-1zM6 498h1v3h-1zM7 495h1v3h-1zM8 493h1v2h-1zM9 490h1v3h-1zM10 488h1v2h-1zM11 486h1v2h-1zM12 484h1v2h-1zM13 482h1v2h-1zM14 480h1v2h-1zM15 479h1v1h-1zM16 477h1v2h-1zM17 476h1v1h-1zM18 474h1v2h-1zM19 473h1v1h-1zM20 472h1v1h-1zM21 471h1v1h-1zM22 470h1v1h-1zM23 470h1v1h-1zM24 469h1v1h-1zM25 469h1v1h-1zM26 468h1v1h-1zM27 468h1v1h-1zM28 468h1v1h-1zM29 468h1v1h-1zM30 468h1v1h-1zM31 469h1v1h-1zM32 469h1v1h-1zM33 469h1v1h-1zM34 470h1v1h-1zM35 470h1v1h-1zM36 471h1v1h-1zM37 472h1v1h-1zM38 473h1v1h-1zM39 474h1v1h-1zM40 474h1v1h-1zM41 475h1v1h-1zM42 476h1v2h-1zM43 478h1v1h-1zM44 479h1v1h-1zM45 480h1v1h-1zM46 481h1v1h-1zM47 482h1v1h-1zM48 483h1v1h-1zM49 484h1v1h-1zM50 485h1v1h-1zM51 485h1v1h-1zM52 486h1v1h-1zM53 487h1v1h-1zM54 488h1v1h-1zM55 488h1v1h-1zM56 489h1v1h-1zM57 490h1v1h-1zM58 490h1v1h-1zM59 491h1v1h-1zM60 492h1v1h-1zM61 492h1v1h-1zM62 493h1v1h-1zM63 494h1v1h-1zM64 495h1v1h-1zM65 495h1v1h-1zM66 496h1v1h-1zM67 497h1v1h-1zM68 498h1v1h-1zM69 499h1v1h-1zM70 500h1v1h-1zM71 500h1v1h-1zM72 501h1v1h-1zM73 502h1v1h-1zM74 503h1v1h-1zM75 504h1v1h-1zM76 504h1v1h-1zM77 505h1v1h-1zM78 506h1v1h-1zM79 507h1v1h-1zM80 508h1v1h-1zM81 508h1v1h-1zM82 509h1v1h-1zM83 510h1v1h-1zM84 510h1v1h-1zM85 510h1v1h-1zM86 509h1v1h-1zM87 509h1v1h-1zM88 508h1v1h-1zM89 508h1v1h-1zM90 507h1v1h-1zM91 507h1v1h-1zM92 506h1v1h-1zM93 506h1v1h-1zM94 505h1v1h-1zM95 505h1v1h-1zM96 504h1v1h-1zM97 504h1v1h-1zM98 503h1v1h-1zM99 502h1v1h-1zM100 502h1v1h-1zM101 501h1v1h-1zM102 500h1v1h-1zM103 500h1v1h-1zM104 499h1v1h-1zM105 499h1v1h-1zM106 499h1v1h-1zM107 499h1v1h-1zM108 499h1v1h-1zM109 499h1v1h-1zM110 499h1v1h-1zM111 499h1v1h-1zM112 499h1v1h-1zM113 499h1v1h-1zM114 499h1v1h-1zM115 499h1v1h-1zM116 499h1v1h-1zM117 499h1v1h-1zM118 499h1v1h-1zM119 499h1v1h-1zM120 499h1v1h-1zM121 499h1v1h-1zM122 499h1v1h-1zM123 499h1v1h-1zM124 500h1v1h-1zM125 500h1v1h-1zM126 500h1v1h-1zM127 500h1v1h-1zM128 500h1v1h-1zM129 500h1v1h-1zM130 500h1v1h-1zM131 500h1v1h-1zM132 500h1v1h-1zM133 499h1v1h-1zM134 499h1v1h-1zM135 499h1v1h-1zM136 498h1v1h-1zM137 497h1v1h-1zM138 496h1v1h-1zM139 495h1v1h-1zM140 494h1v1h-1zM141 493h1v1h-1zM142 492h1v1h-1zM143 492h1v1h-1zM144 491h1v1h-1zM145 490h1v1h-1zM146 489h1v1h-1zM147 488h1v1h-1zM148 487h1v1h-1zM149 486h1v1h-1zM150 485h1v1h-1zM151 484h1v1h-1zM152 484h1v1h-1zM153 483h1v1h-1zM154 483h1v1h-1zM155 483h1v1h-1zM156 482h1v1h-1zM157 482h1v1h-1zM158 481h1v1h-1zM159 481h1v1h-1zM160 480h1v1h-1zM161 479h1v1h-1zM162 479h1v1h-1zM163 478h1v1h-1zM164 477h1v1h-1zM165 476h1v1h-1zM166 475h1v1h-1zM167 474h1v1h-1zM168 473h1v1h-1zM169 472h1v1h-1zM170 471h1v1h-1zM171 470h1v1h-1zM172 469h1v1h-1zM173 468h1v1h-1zM174 467h1v1h-1zM175 467h1v1h-1zM176 467h1v1h-1zM177 466h1v1h-1zM178 466h1v1h-1zM179 466h1v1h-1zM180 466h1v1h-1zM181 467h1v1h-1zM182 467h1v1h-1zM183 467h1v1h-1zM184 468h1v1h-1zM185 469h1v1h-1zM186 469h1v1h-1zM187 470h1v1h-1zM188 471h1v1h-1zM189 472h1v1h-1zM190 473h1v1h-1zM191 474h1v1h-1zM192 475h1v1h-1zM193 475h1v1h-1zM194 476h1v1h-1zM195 476h1v1h-1zM196 477h1v1h-1zM197 477h1v1h-1zM198 478h1v1h-1zM199 478h1v1h-1zM200 479h1v1h-1zM201 479h1v1h-1zM202 478h1v1h-1zM203 478h1v1h-1zM204 478h1v1h-1zM205 478h1v1h-1zM206 478h1v1h-1zM207 477h1v1h-1zM208 477h1v1h-1zM209 477h1v1h-1zM210 476h1v1h-1zM211 476h1v1h-1zM212 476h1v1h-1zM213 476h1v1h-1zM214 475h1v1h-1zM215 475h1v1h-1zM216 475h1v1h-1zM217 475h1v1h-1zM218 475h1v1h-1zM219 475h1v1h-1zM220 475h1v1h-1zM221 475h1v1h-1zM222 476h1v1h-1zM223 476h1v1h-1zM224 476h1v1h-1zM225 477h1v1h-1zM226 477h1v1h-1zM227 478h1v1h-1zM228 478h1v1h-1zM229 479h1v1h-1zM230 479h1v1h-1zM231 479h1v1h-1zM232 480h1v1h-1zM233 480h1v1h-1zM234 480h1v1h-1zM235 480h1v1h-1zM236 480h1v1h-1zM237 481h1v1h-1zM238 481h1v1h-1zM239 481h1v1h-1zM240 481h1v1h-1zM241 481h1v1h-1zM242 481h1v1h-1zM243 482h1v1h-1zM244 482h1v1h-1zM245 482h1v1h-1zM246 482h1v1h-1zM247 482h1v1h-1zM248 482h1v1h-1zM249 482h1v1h-1zM250 482h1v1h-1zM251 482h1v1h-1zM252 482h1v1h-1zM253 482h1v1h-1zM254 482h1v1h-1zM255 482h1v1h-1zM256 483h1v1h-1zM257 483h1v1h-1zM258 483h1v1h-1zM259 484h1v1h-1zM260 484h1v1h-1zM261 485h1v1h-1zM262 485h1v1h-1zM263 486h1v1h-1zM264 486h1v1h-1zM265 487h1v1h-1zM266 487h1v1h-1zM267 488h1v1h-1zM268 489h1v1h-1zM269 490h1v1h-1zM270 491h1v1h-1zM271 492h1v1h-1zM272 493h1v1h-1zM273 494h1v1h-1zM274 494h1v1h-1zM275 495h1v1h-1zM276 496h1v1h-1zM277 497h1v1h-1zM278 498h1v1h-1zM279 499h1v1h-1zM280 499h1v1h-1zM281 499h1v1h-1zM282 500h1v1h-1zM283 500h1v1h-1zM284 500h1v1h-1zM285 500h1v1h-1zM286 500h1v1h-1zM287 500h1v1h-1zM288 500h1v1h-1zM289 500h1v1h-1zM290 500h1v1h-1zM291 500h1v1h-1zM292 500h1v1h-1zM293 500h1v1h-1zM294 500h1v1h-1zM295 500h1v1h-1zM296 500h1v1h-1zM297 500h1v1h-1zM298 500h1v1h-1zM299 500h1v1h-1zM300 500h1v1h-1zM301 500h1v1h-1zM302 501h1v1h-1zM303 501h1v1h-1zM304 502h1v1h-1zM305 502h1v1h-1zM306 503h1v1h-1zM307 504h1v1h-1zM308 505h1v1h-1zM309 506h1v1h-1zM310 507h1v1h-1zM311 508h1v1h-1zM312 509h1v1h-1zM313 510h1v1h-1zM314 511h1v1h-1zM315 512h1v1h-1zM316 513h1v1h-1zM317 514h1v1h-1zM318 515h1v1h-1zM319 516h1v1h-1zM320 517h1v2h-1zM321 518h1v1h-1zM322 519h1v1h-1zM323 520h1v1h-1zM324 521h1v1h-1zM325 521h1v1h-1zM326 522h1v1h-1zM327 522h1v1h-1zM328 523h1v1h-1zM329 523h1v1h-1zM330 523h1v1h-1zM331 523h1v1h-1zM332 524h1v1h-1zM333 524h1v1h-1zM334 524h1v1h-1zM335 524h1v1h-1zM336 524h1v1h-1zM337 524h1v1h-1zM338 524h1v1h-1zM339 524h1v1h-1zM340 524h1v1h-1zM341 523h1v1h-1zM342 523h1v1h-1zM343 522h1v1h-1zM344 522h1v1h-1zM345 521h1v1h-1zM346 521h1v1h-1zM347 521h1v1h-1zM348 521h1v1h-1zM349 521h1v1h-1zM350 521h1v1h-1zM351 521h1v1h-1zM352 521h1v1h-1zM353 520h1v1h-1zM354 520h1v1h-1zM355 520h1v1h-1zM356 519h1v1h-1zM357 519h1v1h-1zM358 519h1v1h-1zM359 519h1v1h-1zM360 519h1v1h-1zM361 519h1v1h-1zM362 519h1v1h-1zM363 519h1v1h-1zM364 520h1v1h-1zM365 519h1v1h-1zM366 519h1v1h-1zM367 519h1v1h-1zM368 519h1v1h-1zM369 518h1v1h-1zM370 517h1v1h-1zM371 517h1v1h-1zM372 516h1v1h-1zM373 516h1v1h-1zM374 515h1v1h-1zM375 515h1v1h-1zM376 514h1v1h-1zM377 514h1v1h-1zM378 514h1v1h-1zM379 513h1v1h-1zM380 513h1v1h-1zM381 513h1v1h-1zM382 513h1v1h-1zM383 513h1v1h-1zM384 513h1v1h-1zM385 513h1v1h-1zM386 513h1v1h-1zM387 514h1v1h-1zM388 514h1v1h-1zM389 514h1v1h-1zM390 515h1v1h-1zM391 515h1v1h-1zM392 516h1v1h-1zM393 516h1v1h-1zM394 517h1v1h-1zM395 517h1v1h-1zM396 518h1v1h-1zM397 518h1v1h-1zM398 518h1v1h-1zM399 518h1v1h-1zM400 519h1v1h-1zM401 519h1v1h-1zM402 519h1v1h-1zM403 519h1v1h-1zM404 520h1v1h-1zM405 520h1v1h-1zM406 520h1v1h-1zM407 520h1v1h-1zM408 520h1v1h-1zM409 520h1v1h-1zM410 520h1v1h-1zM411 520h1v1h-1zM412 520h1v1h-1zM413 520h1v1h-1zM414 520h1v1h-1zM415 520h1v1h-1zM416 521h1v1h-1zM417 521h1v1h-1zM418 521h1v1h-1zM419 522h1v1h-1zM420 522h1v1h-1zM421 522h1v1h-1zM422 523h1v1h-1zM423 523h1v1h-1zM424 524h1v1h-1zM425 524h1v1h-1zM426 525h1v1h-1zM427 526h1v1h-1zM428 526h1v1h-1zM429 527h1v1h-1zM430 527h1v1h-1zM431 528h1v1h-1zM432 529h1v1h-1zM433 529h1v1h-1zM434 529h1v1h-1zM435 530h1v1h-1zM436 530h1v1h-1zM437 530h1v1h-1zM438 530h1v1h-1zM439 530h1v1h-1zM440 531h1v1h-1zM441 531h1v1h-1zM442 531h1v1h-1zM443 532h1v1h-1zM444 532h1v1h-1zM445 533h1v1h-1zM446 534h1v1h-1zM447 534h1v1h-1zM448 535h1v1h-1zM449 536h1v1h-1zM450 537h1v1h-1zM451 537h1v1h-1zM452 538h1v1h-1zM453 539h1v1h-1zM454 540h1v1h-1zM455 541h1v1h-1zM456 542h1v1h-1zM457 543h1v1h-1zM458 544h1v1h-1zM459 545h1v1h-1zM460 546h1v1h-1zM461 546h1v1h-1zM462 547h1v1h-1zM463 548h1v1h-1zM464 548h1v1h-1zM465 549h1v1h-1zM466 550h1v1h-1zM467 550h1v1h-1zM468 551h1v1h-1zM469 551h1v1h-1zM470 552h1v1h-1zM471 553h1v1h-1zM472 553h1v1h-1zM473 553h1v1h-1zM474 554h1v1h-1zM475 554h1v1h-1zM476 553h1v1h-1zM477 553h1v1h-1zM478 553h1v1h-1zM479 552h1v1h-1zM480 552h1v1h-1zM481 551h1v1h-1zM482 550h1v1h-1zM483 549h1v1h-1zM484 549h1v1h-1zM485 547h1v2h-1zM486 546h1v1h-1zM487 545h1v1h-1zM488 544h1v1h-1zM489 542h1v2h-1zM490 541h1v1h-1zM491 540h1v1h-1zM492 538h1v2h-1zM493 537h1v1h-1zM494 536h1v1h-1zM495 535h1v1h-1zM496 534h1v1h-1zM497 533h1v1h-1zM498 532h1v1h-1zM499 531h1v1h-1zM500 531h1v1h-1zM501 531h1v1h-1zM502 530h1v1h-1zM503 530h1v1h-1zM504 530h1v1h-1zM505 530h1v1h-1zM506 530h1v1h-1zM507 530h1v1h-1zM508 530h1v1h-1zM509 529h1v1h-1zM510 529h1v1h-1zM511 529h1v1h-1zM512 528h1v1h-1zM513 528h1v1h-1zM514 527h1v1h-1zM515 527h1v1h-1zM516 526h1v1h-1zM517 526h1v1h-1zM518 525h1v1h-1zM519 524h1v1h-1zM520 524h1v1h-1zM521 523h1v1h-1zM522 522h1v1h-1zM523 521h1v1h-1zM524 521h1v1h-1zM525 520h1v1h-1zM526 519h1v1h-1zM527 518h1v1h-1zM528 518h1v1h-1zM529 517h1v1h-1zM530 516h1v1h-1zM531 516h1v1h-1zM532 515h1v1h-1zM533 515h1v1h-1zM534 515h1v1h-1zM535 514h1v1h-1zM536 514h1v1h-1zM537 514h1v1h-1zM538 514h1v1h-1zM539 513h1v1h-1zM540 513h1v1h-1zM541 513h1v1h-1zM542 513h1v1h-1zM543 513h1v1h-1zM544 513h1v1h-1zM545 513h1v1h-1zM546 513h1v1h-1zM547 513h1v1h-1zM548 513h1v1h-1zM549 513h1v1h-1zM550 513h1v1h-1zM551 513h1v1h-1zM552 514h1v1h-1zM553 514h1v1h-1zM554 514h1v1h-1zM555 514h1v1h-1zM556 515h1v1h-1zM557 515h1v1h-1zM558 516h1v1h-1zM559 516h1v1h-1zM560 517h1v1h-1zM561 517h1v1h-1zM562 518h1v1h-1zM563 519h1v1h-1zM564 520h1v1h-1zM565 520h1v1h-1zM566 520h1v1h-1zM567 521h1v1h-1zM568 521h1v1h-1zM569 521h1v1h-1zM570 522h1v1h-1zM571 522h1v1h-1zM572 523h1v1h-1zM573 523h1v1h-1zM574 523h1v1h-1zM575 523h1v1h-1zM576 524h1v1h-1zM577 524h1v1h-1zM578 524h1v1h-1zM579 524h1v1h-1zM580 524h1v1h-1zM581 524h1v1h-1zM582 524h1v1h-1zM583 524h1v1h-1zM584 524h1v1h-1zM585 524h1v1h-1zM586 524h1v1h-1zM587 524h1v1h-1zM588 524h1v1h-1zM589 524h1v1h-1zM590 525h1v1h-1zM591 525h1v1h-1zM592 525h1v1h-1zM593 525h1v1h-1zM594 526h1v1h-1zM595 526h1v1h-1zM596 526h1v1h-1zM597 526h1v1h-1zM598 526h1v1h-1zM599 526h1v1h-1zM600 527h1v1h-1zM601 527h1v1h-1zM602 526h1v1h-1zM603 526h1v1h-1zM604 526h1v1h-1zM605 526h1v1h-1zM606 525h1v1h-1zM607 525h1v1h-1zM608 524h1v1h-1zM609 524h1v1h-1zM610 523h1v1h-1zM611 522h1v1h-1zM612 522h1v1h-1zM613 521h1v1h-1zM614 520h1v1h-1zM615 519h1v1h-1zM616 519h1v1h-1zM617 518h1v1h-1zM618 518h1v1h-1zM619 517h1v1h-1zM620 517h1v1h-1zM621 516h1v1h-1zM622 516h1v1h-1zM623 516h1v1h-1zM624 516h1v1h-1zM625 516h1v1h-1zM626 515h1v1h-1zM627 515h1v1h-1zM628 515h1v1h-1zM629 515h1v1h-1zM630 516h1v1h-1zM631 516h1v1h-1zM632 517h1v1h-1zM633 517h1v1h-1zM634 517h1v1h-1zM635 517h1v1h-1zM636 517h1v1h-1zM637 517h1v1h-1zM638 517h1v1h-1zM639 517h1v1h-1zM640 517h1v1h-1zM641 516h1v1h-1zM642 515h1v1h-1zM643 514h1v1h-1zM644 514h1v1h-1zM645 513h1v1h-1zM646 512h1v1h-1zM647 511h1v1h-1zM648 510h1v1h-1zM649 509h1v1h-1zM650 508h1v1h-1zM651 507h1v1h-1zM652 506h1v1h-1zM653 507h1v1h-1zM654 507h1v1h-1zM655 508h1v1h-1zM656 509h1v1h-1zM657 510h1v2h-1zM658 512h1v2h-1zM659 514h1v2h-1zM660 516h1v2h-1zM661 518h1v2h-1zM662 520h1v2h-1zM663 522h1v2h-1zM664 524h1v3h-1zM665 527h1v2h-1zM666 529h1v3h-1zM667 532h1v3h-1zM668 535h1v3h-1zM669 538h1v3h-1zM670 541h1v2h-1zM671 543h1v3h-1zM672 546h1v2h-1zM673 548h1v2h-1zM674 550h1v1h-1zM675 551h1v2h-1zM676 553h1v1h-1zM677 554h1v1h-1zM678 554h1v1h-1zM679 555h1v1h-1zM680 556h1v1h-1zM681 556h1v1h-1zM682 556h1v1h-1zM683 556h1v1h-1zM684 557h1v1h-1zM685 557h1v1h-1zM686 557h1v1h-1zM687 557h1v1h-1zM688 558h1v1h-1zM689 558h1v1h-1zM690 558h1v1h-1zM691 558h1v1h-1zM692 558h1v1h-1zM693 559h1v1h-1zM694 559h1v1h-1zM695 560h1v1h-1zM696 560h1v1h-1zM697 561h1v1h-1zM698 562h1v1h-1zM699 563h1v1h-1zM700 564h1v1h-1zM701 564h1v1h-1zM702 565h1v1h-1zM703 566h1v1h-1zM704 567h1v1h-1zM705 567h1v1h-1zM706 568h1v1h-1zM707 569h1v1h-1zM708 569h1v1h-1zM709 570h1v1h-1zM710 570h1v1h-1zM711 570h1v1h-1zM712 571h1v1h-1zM713 571h1v1h-1zM714 571h1v1h-1zM715 571h1v1h-1zM716 571h1v1h-1zM717 571h1v1h-1zM718 570h1v1h-1zM719 570h1v1h-1zM720 570h1v1h-1zM721 570h1v1h-1zM722 569h1v1h-1zM723 569h1v1h-1zM724 569h1v1h-1zM725 569h1v1h-1zM726 569h1v1h-1zM727 569h1v1h-1z" fill="#000"/>
<rect x="0" y="455" width="800" height="1" fill="#fff"/>
<rect x="2" y="2" width="1" height="453" fill="#000"/>
<rect x="2" y="456" width="1" height="124" fill="#000"/>
<rect x="754" y="2" width="1" height="453" fill="#000"/>
<rect x="754" y="456" width="1" height="124" fill="#000"/>
<rect x="2" y="2" width="753" height="1" fill="#000"/>
<rect x="2" y="454" width="753" height="1" fill="#000"/>
<rect x="2" y="456" width="753" height="1" fill="#000"/>
<rect x="2" y="579" width="753" height="1" fill="#000"/>
<rect x="6" y="9" width="7" height="1" fill="#000"/>
<rect x="7" y="10" width="5" height="1" fill="#000"/>
<rect x="8" y="11" width="3" height="1" fill="#000"/>
<rect x="9" y="12" width="1" height="1" fill="#000"/>
<rect x="755" y="22" width="2" height="1" fill="#000"/>
<rect x="755" y="55" width="2" height="1" fill="#000"/>
<rect x="755" y="88" width="2" height="1" fill="#000"/>
<rect x="755" y="121" width="2" height="1" fill="#000"/>
<rect x="755" y="154" width="2" height="1" fill="#000"/>
<rect x="755" y="187" width="2" height="1" fill="#000"/>
<rect x="755" y="220" width="2" height="1" fill="#000"/>
<rect x="755" y="253" width="2" height="1" fill="#000"/>
<rect x="755" y="286" width="2" height="1" fill="#000"/>
<rect x="755" y="319" width="2" height="1" fill="#000"/>
<rect x="755" y="352" width="2" height="1" fill="#000"/>
<rect x="755" y="385" width="2" height="1" fill="#000"/>
<rect x="755" y="418" width="2" height="1" fill="#000"/>
<rect x="755" y="451" width="2" height="1" fill="#000"/>
<rect x="755" y="458" width="1" height="1" fill="#000"/>
<rect x="755" y="531" width="2" height="1" fill="#000"/>
<rect x="755" y="578" width="2" height="1" fill="#000"/>
<rect x="3" y="580" width="1" height="3" fill="#000"/>
<rect x="67" y="580" width="1" height="3" fill="#000"/>
<rect x="131" y="580" width="1" height="3" fill="#000"/>
<rect x="195" y="580" width="1" height="3" fill="#000"/>
<rect x="259" y="580" width="1" height="3" fill="#000"/>
<rect x="323" y="580" width="1" height="3" fill="#000"/>
<rect x="387" y="580" width="1" height="3" fill="#000"/>
<rect x="451" y="580" width="1" height="3" fill="#000"/>
<rect x="515" y="580" width="1" height="3" fill="#000"/>
<rect x="579" y="580" width="1" height="3" fill="#000"/>
<rect x="643" y="580" width="1" height="3" fill="#000"/>
<rect x="707" y="580" width="1" height="3" fill="#000"/>
</g>
<text x="759.9" y="26" textLength="33.4" lengthAdjust="spacingAndGlyphs">1.22270</text>
<text x="759.9" y="59" textLength="33.4" lengthAdjust="spacingAndGlyphs">1.22015</text>
<text x="759.9" y="92" textLength="33.4" lengthAdjust="spacingAndGlyphs">1.21765</text>
<text x="759.9" y="125" textLength="33.4" lengthAdjust="spacingAndGlyphs">1.21515</text>
<text x="759.9" y="158" textLength="33.4" lengthAdjust="spacingAndGlyphs">1.21260</text>
<text x="759.9" y="191" textLength="33.4" lengthAdjust="spacingAndGlyphs">1.21010</text>
<text x="759.9" y="224" textLength="33.4" lengthAdjust="spacingAndGlyphs">1.20760</text>
<text x="759.9" y="257" textLength="33.4" lengthAdjust="spacingAndGlyphs">1.20505</text>
<text x="759.9" y="290" textLength="33.4" lengthAdjust="spacingAndGlyphs">1.20255</text>
<text x="759.9" y="323" textLength="33.4" lengthAdjust="spacingAndGlyphs">1.20005</text>
<text x="759.9" y="356" textLength="33.4" lengthAdjust="spacingAndGlyphs">1.19750</text>
<text x="759.9" y="389" textLength="33.4" lengthAdjust="spacingAndGlyphs">1.19500</text>
<text x="759.9" y="422" textLength="33.4" lengthAdjust="spacingAndGlyphs">1.19250</text>
<text x="759.9" y="455" textLength="33.4" lengthAdjust="spacingAndGlyphs">1.19000</text>
<g shape-rendering="crispEdges">
<rect x="756" y="55" width="41" height="11" fill="#006400"/>
<rect x="756" y="89" width="41" height="11" fill="#006400"/>
<rect x="756" y="113" width="41" height="11" fill="#006400"/>
<rect x="756" y="247" width="41" height="11" fill="#FF0000"/>
<rect x="756" y="289" width="41" height="11" fill="#FF0000"/>
<rect x="756" y="339" width="41" height="11" fill="#FF0000"/>
<rect x="756" y="210" width="41" height="11" fill="#000"/>
</g>
<text x="759.9" y="64" textLength="33.4" lengthAdjust="spacingAndGlyphs" style="fill:#fff;stroke:#fff">1.21970</text>
<text x="759.9" y="98" textLength="33.4" lengthAdjust="spacingAndGlyphs" style="fill:#fff;stroke:#fff">1.21710</text>
<text x="759.9" y="122" textLength="33.4" lengthAdjust="spacingAndGlyphs" style="fill:#fff;stroke:#fff">1.21530</text>
<text x="759.9" y="256" textLength="33.4" lengthAdjust="spacingAndGlyphs" style="fill:#fff;stroke:#fff">1.20510</text>
<text x="759.9" y="298" textLength="33.4" lengthAdjust="spacingAndGlyphs" style="fill:#fff;stroke:#fff">1.20190</text>
<text x="759.9" y="348" textLength="33.4" lengthAdjust="spacingAndGlyphs" style="fill:#fff;stroke:#fff">1.19810</text>
<text x="759.9" y="219" textLength="33.4" lengthAdjust="spacingAndGlyphs" style="fill:#fff;stroke:#fff">1.20797</text>
<text x="758" y="467" textLength="42.6" lengthAdjust="spacingAndGlyphs">0.0041432</text>
<text x="758" y="535" textLength="17.7" lengthAdjust="spacingAndGlyphs">0.00</text>
<text x="758" y="576" textLength="45.6" lengthAdjust="spacingAndGlyphs">-0.0027211</text>
<text x="18.1" y="14" textLength="53.6" lengthAdjust="spacingAndGlyphs">EURUSD,H1</text>
<text x="78.2" y="14" textLength="33.2" lengthAdjust="spacingAndGlyphs">1.20854</text>
<text x="114.6" y="14" textLength="33.2" lengthAdjust="spacingAndGlyphs">1.20857</text>
<text x="150.5" y="14" textLength="33.2" lengthAdjust="spacingAndGlyphs">1.20789</text>
<text x="186.6" y="14" textLength="33.2" lengthAdjust="spacingAndGlyphs">1.20797</text>
<text x="2.5" y="592" textLength="45.5" lengthAdjust="spacingAndGlyphs">5 Feb 2021</text>
<text x="66.1" y="592" textLength="49.6" lengthAdjust="spacingAndGlyphs">8 Feb 11:00</text>
<text x="130.1" y="592" textLength="49.6" lengthAdjust="spacingAndGlyphs">9 Feb 03:00</text>
<text x="194.1" y="592" textLength="49.6" lengthAdjust="spacingAndGlyphs">9 Feb 19:00</text>
<text x="258.1" y="592" textLength="54.4" lengthAdjust="spacingAndGlyphs">10 Feb 11:00</text>
<text x="322.1" y="592" textLength="54.4" lengthAdjust="spacingAndGlyphs">11 Feb 03:00</text>
<text x="386.1" y="592" textLength="54.4" lengthAdjust="spacingAndGlyphs">11 Feb 19:00</text>
<text x="450.1" y="592" textLength="54.4" lengthAdjust="spacingAndGlyphs">12 Feb 11:00</text>
<text x="514.1" y="592" textLength="54.4" lengthAdjust="spacingAndGlyphs">15 Feb 04:00</text>
<text x="578.1" y="592" textLength="54.4" lengthAdjust="spacingAndGlyphs">15 Feb 20:00</text>
<text x="642.1" y="592" textLength="54.4" lengthAdjust="spacingAndGlyphs">16 Feb 12:00</text>
<text x="706.1" y="592" textLength="54.4" lengthAdjust="spacingAndGlyphs">17 Feb 04:00</text>
</svg></body></html>
